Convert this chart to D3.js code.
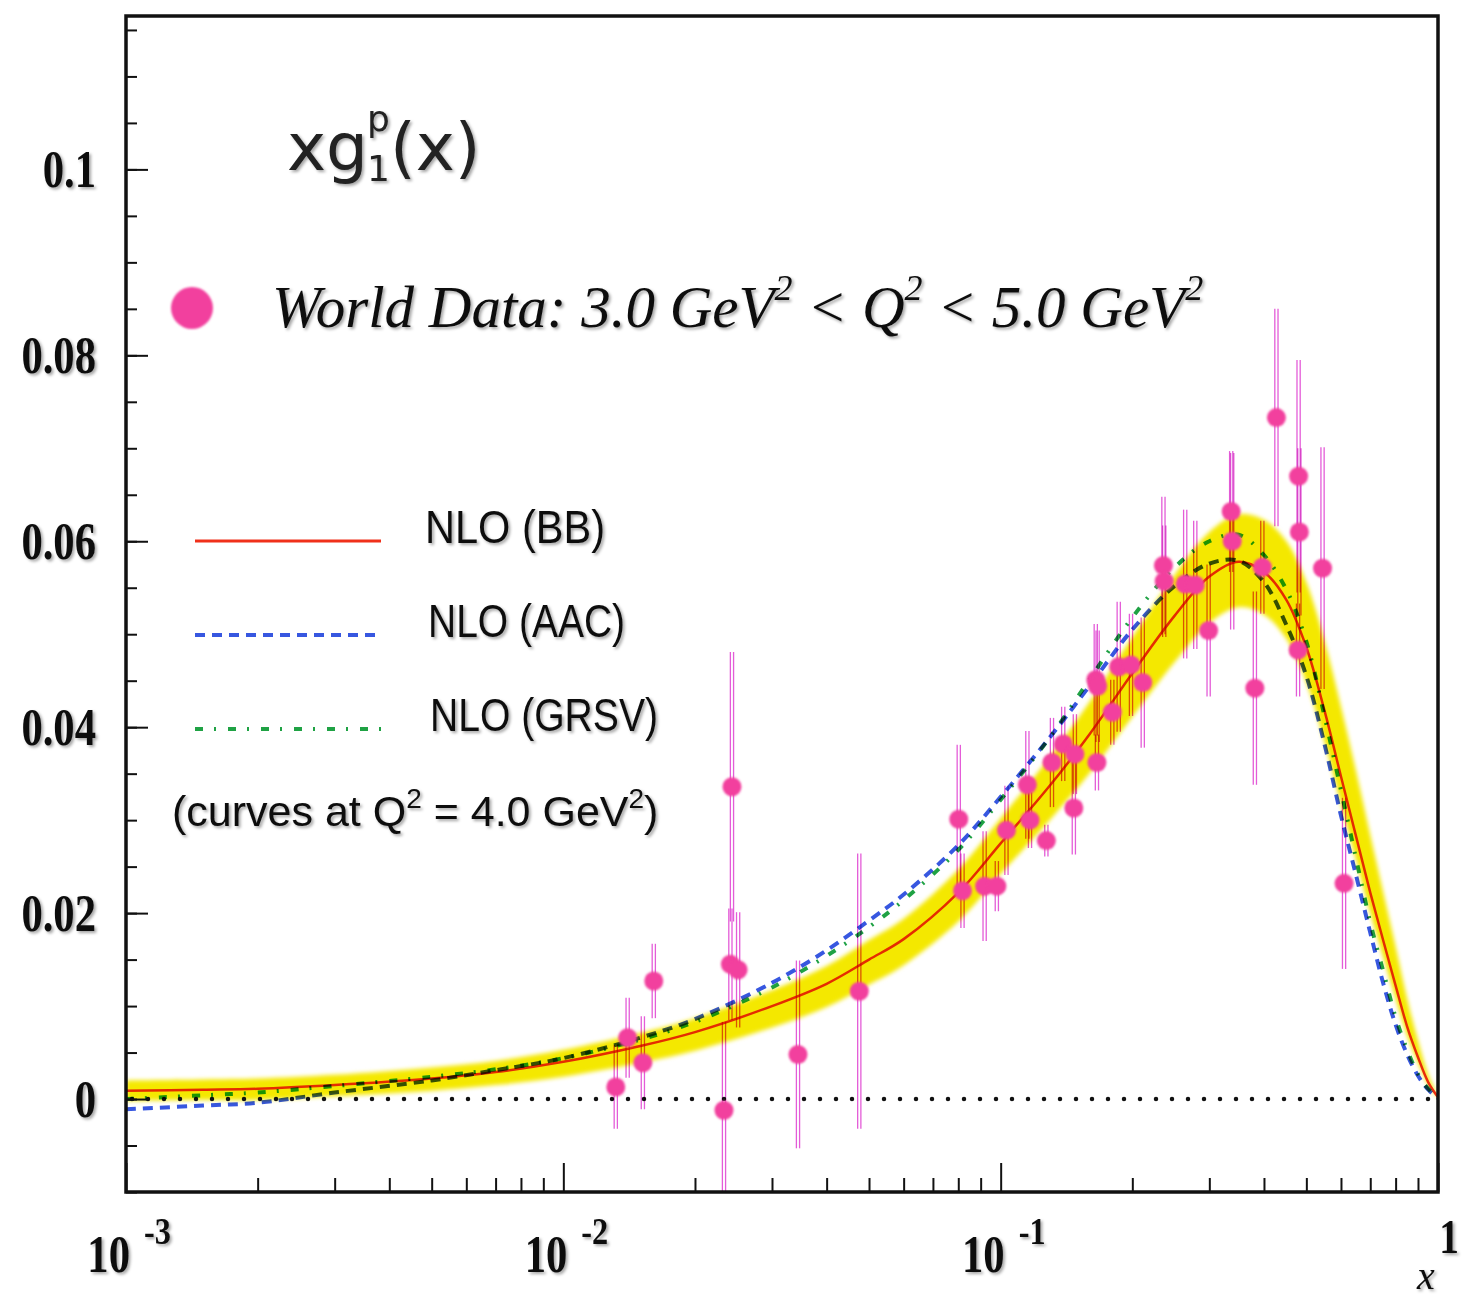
<!DOCTYPE html>
<html>
<head>
<meta charset="utf-8">
<script src="https://cdn.jsdelivr.net/npm/d3@7"></script>
<style>
  body { margin: 0; background: #fff; }
  svg { display: block; }
</style>
</head>
<body>
<div id="chart"></div>
<script>
// x grid shared by the three NLO curves and the BB error band
var xGrid = [0.001, 0.0015, 0.002, 0.003, 0.005, 0.007, 0.01, 0.015, 0.02, 0.03, 0.04, 0.05, 0.06, 0.08,
             0.1, 0.13, 0.16, 0.2, 0.25, 0.3, 0.35, 0.4, 0.45, 0.5, 0.55, 0.6, 0.65, 0.7, 0.75, 0.8, 0.85, 0.9, 0.95, 1.0];

var bbValues = [0.0009, 0.0010, 0.0011, 0.0015, 0.0022, 0.0029, 0.0040, 0.0057, 0.0072, 0.0100, 0.0124, 0.0150, 0.0172, 0.0222,
                0.0275, 0.0338, 0.0393, 0.0458, 0.0520, 0.0562, 0.0578, 0.0567, 0.0537, 0.0486, 0.0418, 0.0347, 0.0282, 0.0222, 0.0170, 0.0122, 0.0078, 0.0045, 0.0018, 0.0002];

var aacValues = [-0.0011, -0.0007, -0.0004, 0.0007, 0.0020, 0.0031, 0.0044, 0.0066, 0.0086, 0.0125, 0.0160, 0.0192, 0.0220, 0.0273,
                 0.0325, 0.0390, 0.0445, 0.0505, 0.0552, 0.0576, 0.0579, 0.0556, 0.0510, 0.0455, 0.0382, 0.0305, 0.0240, 0.0179, 0.0124, 0.0080, 0.0048, 0.0025, 0.0010, 0.0001];

var grsvValues = [0.0000, 0.0004, 0.0007, 0.0014, 0.0024, 0.0032, 0.0044, 0.0064, 0.0083, 0.0120, 0.0154, 0.0185, 0.0214, 0.0268,
                  0.0322, 0.0390, 0.0452, 0.0518, 0.0572, 0.0600, 0.0607, 0.0585, 0.0548, 0.0492, 0.0412, 0.0332, 0.0258, 0.0190, 0.0137, 0.0088, 0.0053, 0.0027, 0.0011, 0.0001];

// asymmetric BB uncertainty (above / below the curve)
var bbErrUp = [0.0011, 0.0011, 0.0011, 0.0011, 0.0012, 0.0012, 0.0013, 0.0014, 0.0015, 0.0017, 0.0019, 0.0021, 0.0022, 0.0025,
               0.0027, 0.0031, 0.0035, 0.0039, 0.0044, 0.0048, 0.0051, 0.0056, 0.0063, 0.0070, 0.0075, 0.0075, 0.0070, 0.0062, 0.0052, 0.0042, 0.0030, 0.0018, 0.0008, 0.0001];
var bbErrDown = [0.0011, 0.0011, 0.0012, 0.0012, 0.0013, 0.0014, 0.0016, 0.0018, 0.0020, 0.0023, 0.0025, 0.0027, 0.0028, 0.0031,
                 0.0033, 0.0037, 0.0042, 0.0047, 0.0050, 0.0050, 0.0049, 0.0046, 0.0042, 0.0038, 0.0034, 0.0030, 0.0026, 0.0022, 0.0018, 0.0014, 0.0010, 0.0006, 0.0003, 0.0001];

// world data points, 3.0 < Q^2 < 5.0 GeV^2
var dataX = [0.01318, 0.01403, 0.0152, 0.0161, 0.0243, 0.0241, 0.0251, 0.0233, 0.0344, 0.0475,
             0.0802, 0.0818, 0.0919, 0.0980, 0.1031, 0.1151, 0.1167, 0.1272, 0.1310, 0.1390,
             0.1478, 0.1470, 0.1660, 0.1650, 0.1666, 0.1800, 0.1862, 0.1986, 0.2113, 0.2356,
             0.2366, 0.2642, 0.2786, 0.2989, 0.3366, 0.3384, 0.3966, 0.3813, 0.4271, 0.4800,
             0.4820, 0.4786, 0.5445, 0.6098];
var dataY = [0.0013, 0.0066, 0.0039, 0.0127, 0.0336, 0.0145, 0.0139, -0.0012, 0.0048, 0.0116,
             0.0301, 0.0224, 0.0229, 0.0229, 0.0289, 0.0338, 0.0300, 0.0278, 0.0362, 0.0382,
             0.0371, 0.0313, 0.0362, 0.0451, 0.0444, 0.0416, 0.0465, 0.0467, 0.0448, 0.0574,
             0.0557, 0.0554, 0.0553, 0.0504, 0.0632, 0.0600, 0.0572, 0.0442, 0.0733, 0.0670,
             0.0610, 0.0483, 0.0571, 0.0232];
var dataErr = [0.0045, 0.0043, 0.0050, 0.0040, 0.0145, 0.0060, 0.0062, 0.0095, 0.0101, 0.0148,
               0.0080, 0.0040, 0.0059, 0.0027, 0.0048, 0.0058, 0.0030, 0.0017, 0.0048, 0.0040,
               0.0043, 0.0050, 0.0030, 0.0060, 0.0060, 0.0035, 0.0070, 0.0055, 0.0070, 0.0074,
               0.0060, 0.0080, 0.0069, 0.0071, 0.0065, 0.0095, 0.0050, 0.0104, 0.0117, 0.0125,
               0.0090, 0.0050, 0.0130, 0.0092];

var yTickValues = [0, 0.02, 0.04, 0.06, 0.08, 0.1];
var yTickLabels = ["0", "0.02", "0.04", "0.06", "0.08", "0.1"];
var xDecades = [0.001, 0.01, 0.1, 1];
var xTickBase = ["10", "10", "10", "1"];
var xTickExp = ["-3", "-2", "-1", ""];
var curveNames = ["NLO (BB)", "NLO (AAC)", "NLO (GRSV)"];

var svgWidth = 1466;
var svgHeight = 1301;

var plot = { left: 126, right: 1438, top: 16, bottom: 1192 };

var svg = d3.select("#chart").append("svg")
    .attr("width", svgWidth)
    .attr("height", svgHeight)
    .style("background", "#fff");

var defs = svg.append("defs");
defs.append("clipPath").attr("id", "plotClip")
  .append("rect")
    .attr("x", plot.left).attr("y", plot.top)
    .attr("width", plot.right - plot.left).attr("height", plot.bottom - plot.top);

var shadow = defs.append("filter").attr("id", "shadow")
    .attr("x", "-10%").attr("y", "-20%").attr("width", "130%").attr("height", "150%");
shadow.append("feDropShadow")
    .attr("dx", 2).attr("dy", 2).attr("stdDeviation", 1.6)
    .attr("flood-color", "#000").attr("flood-opacity", 0.35);

defs.append("filter").attr("id", "soft")
  .append("feGaussianBlur").attr("stdDeviation", 2);
defs.append("filter").attr("id", "glow")
  .append("feGaussianBlur").attr("stdDeviation", 0.9);

var xScale = d3.scaleLog().domain([0.001, 1]).range([plot.left, plot.right]);
var yScale = d3.scaleLinear().domain([-0.01, 0.1165]).range([plot.bottom, plot.top]);

var idx = d3.range(xGrid.length);
var smooth = d3.curveCatmullRom.alpha(0.5);
var plotArea = svg.append("g").attr("clip-path", "url(#plotClip)");

// BB uncertainty band
var band = d3.area()
    .x(i => xScale(xGrid[i]))
    .y0(i => yScale(bbValues[i] - bbErrDown[i]))
    .y1(i => yScale(bbValues[i] + bbErrUp[i]))
    .curve(smooth);

plotArea.append("path")
    .datum(idx)
    .attr("d", band)
    .attr("fill", "#f4e800")
    .attr("filter", "url(#soft)");

// zero line
plotArea.append("line")
    .attr("x1", xScale(0.001) + 6).attr("x2", xScale(1))
    .attr("y1", yScale(0)).attr("y2", yScale(0))
    .attr("stroke", "#111")
    .attr("stroke-width", 4.5)
    .attr("stroke-linecap", "round")
    .attr("stroke-dasharray", "0 16");

// curves
var curveStyles = [
  { values: bbValues,   color: "#f0301a", width: 2.5, dash: null },
  { values: aacValues,  color: "#3757e0", width: 4,   dash: "10 7" },
  { values: grsvValues, color: "#1fa244", width: 4,   dash: "8 11 2 12" }
];

curveStyles.slice().reverse().forEach(function(c) {
  var line = d3.line()
      .x(i => xScale(xGrid[i]))
      .y(i => yScale(c.values[i]))
      .curve(smooth);
  plotArea.append("path")
      .datum(idx)
      .attr("d", line)
      .attr("fill", "none")
      .attr("stroke", c.color)
      .attr("stroke-width", c.width)
      .attr("stroke-dasharray", c.dash)
      .style("mix-blend-mode", "multiply");
});

// error bars (double thin lines)
var points = d3.range(dataX.length);
[-1.6, 1.6].forEach(function(off) {
  plotArea.selectAll(null)
    .data(points)
    .enter()
    .append("line")
      .attr("x1", i => xScale(dataX[i]) + off)
      .attr("x2", i => xScale(dataX[i]) + off)
      .attr("y1", i => yScale(dataY[i] + dataErr[i]))
      .attr("y2", i => yScale(dataY[i] - dataErr[i]))
      .attr("stroke", "#e45cd8")
      .attr("stroke-width", 1.3)
      .style("mix-blend-mode", "multiply");
});

// data points
plotArea.selectAll(null)
  .data(points)
  .enter()
  .append("circle")
    .attr("cx", i => xScale(dataX[i]))
    .attr("cy", i => yScale(dataY[i]))
    .attr("r", 9.5)
    .attr("fill", "#f2409e")
    .attr("filter", "url(#glow)");

// axes: ticks drawn inward
var yMinor = d3.range(-0.01, 0.1151, 0.005);
svg.append("g")
    .attr("transform", `translate(${plot.left},0)`)
    .call(d3.axisRight(yScale).tickValues(yMinor).tickSize(11).tickFormat(""))
    .call(g => g.select(".domain").remove());
svg.append("g")
    .attr("transform", `translate(${plot.left},0)`)
    .call(d3.axisRight(yScale).tickValues(yTickValues).tickSize(22).tickFormat(""))
    .call(g => g.select(".domain").remove());

var xMinor = [];
xDecades.slice(0, 3).forEach(function(d) {
  for (var k = 2; k <= 9; k++) xMinor.push(d * k);
});
svg.append("g")
    .attr("transform", `translate(0,${plot.bottom})`)
    .call(d3.axisTop(xScale).tickValues(xMinor).tickSize(14).tickFormat(""))
    .call(g => g.select(".domain").remove());
svg.append("g")
    .attr("transform", `translate(0,${plot.bottom})`)
    .call(d3.axisTop(xScale).tickValues(xDecades).tickSize(29).tickFormat(""))
    .call(g => g.select(".domain").remove());

svg.selectAll(".tick line").attr("stroke", "#111").attr("stroke-width", 2);

// frame
svg.append("rect")
    .attr("x", plot.left).attr("y", plot.top)
    .attr("width", plot.right - plot.left).attr("height", plot.bottom - plot.top)
    .attr("fill", "none")
    .attr("stroke", "#111")
    .attr("stroke-width", 3.5);

// tick labels
var labels = svg.append("g").attr("filter", "url(#shadow)").attr("fill", "#111");

labels.selectAll(null)
  .data(yTickValues)
  .enter()
  .append("text")
    .attr("transform", d => `translate(96,${yScale(d) + 18}) scale(0.82,1)`)
    .attr("text-anchor", "end")
    .attr("font-family", "Liberation Serif, serif")
    .attr("font-weight", "bold")
    .attr("font-size", 52)
    .text((d, i) => yTickLabels[i]);

xDecades.forEach(function(d, i) {
  var px = xScale(d);
  if (xTickExp[i] === "") {
    labels.append("text")
      .attr("transform", `translate(${px + 11},1253) scale(0.82,1)`)
      .attr("text-anchor", "middle")
      .attr("font-family", "Liberation Serif, serif")
      .attr("font-weight", "bold")
      .attr("font-size", 48)
      .text(xTickBase[i]);
    return;
  }
  labels.append("text")
    .attr("transform", `translate(${px + 4},1272) scale(0.82,1)`)
    .attr("text-anchor", "end")
    .attr("font-family", "Liberation Serif, serif")
    .attr("font-weight", "bold")
    .attr("font-size", 52)
    .text(xTickBase[i]);
  labels.append("text")
    .attr("transform", `translate(${px + 18},1244) scale(0.85,1)`)
    .attr("font-family", "Liberation Serif, serif")
    .attr("font-weight", "bold")
    .attr("font-size", 38)
    .text(xTickExp[i]);
});

labels.append("text")
    .attr("x", 1426).attr("y", 1289)
    .attr("text-anchor", "middle")
    .attr("font-family", "Liberation Serif, serif")
    .attr("font-style", "italic")
    .attr("font-size", 40)
    .text("x");

// title xg1p(x)
var title = labels.append("g").attr("font-family", "DejaVu Sans, sans-serif").attr("fill", "#222");
title.append("text").attr("x", 287).attr("y", 170).attr("font-size", 66).text("xg");
title.append("text").attr("x", 367).attr("y", 131).attr("font-size", 36).text("p");
title.append("text").attr("x", 367).attr("y", 181).attr("font-size", 36).text("1");
title.append("text").attr("x", 390).attr("y", 170).attr("font-size", 66).text("(x)");

// world data legend
svg.append("circle")
    .attr("cx", 192).attr("cy", 308).attr("r", 21)
    .attr("fill", "#f2409e")
    .attr("filter", "url(#glow)");

var wd = labels.append("text")
    .attr("x", 272).attr("y", 327)
    .attr("font-family", "Liberation Serif, serif")
    .attr("font-style", "italic")
    .attr("font-size", 59);
wd.append("tspan").text("World Data: 3.0 GeV");
wd.append("tspan").attr("font-size", 36).attr("dy", -27).text("2");
wd.append("tspan").attr("dy", 27).text(" < Q");
wd.append("tspan").attr("font-size", 36).attr("dy", -27).text("2");
wd.append("tspan").attr("dy", 27).text(" < 5.0 GeV");
wd.append("tspan").attr("font-size", 36).attr("dy", -27).text("2");

// curve legend
var legendY = [541, 635, 729];
var legendTextX = [425, 428, 430];
var legendTextLen = [180, 197, 228];
curveStyles.forEach(function(c, i) {
  svg.append("line")
    .attr("x1", 195).attr("x2", 381)
    .attr("y1", legendY[i]).attr("y2", legendY[i])
    .attr("stroke", c.color)
    .attr("stroke-width", i === 0 ? 3 : 4)
    .attr("stroke-dasharray", c.dash);
  labels.append("text")
    .attr("x", legendTextX[i]).attr("y", legendY[i] + 2)
    .attr("font-family", "Liberation Sans, sans-serif")
    .attr("font-size", 46)
    .attr("textLength", legendTextLen[i])
    .attr("lengthAdjust", "spacingAndGlyphs")
    .text(curveNames[i]);
});

var note = labels.append("text")
    .attr("x", 172).attr("y", 826)
    .attr("font-family", "Liberation Sans, sans-serif")
    .attr("font-size", 43);
note.append("tspan").text("(curves at Q");
note.append("tspan").attr("font-size", 28).attr("dy", -18).text("2");
note.append("tspan").attr("dy", 18).text(" = 4.0 GeV");
note.append("tspan").attr("font-size", 28).attr("dy", -18).text("2");
note.append("tspan").attr("dy", 18).text(")");
</script>
</body>
</html>
